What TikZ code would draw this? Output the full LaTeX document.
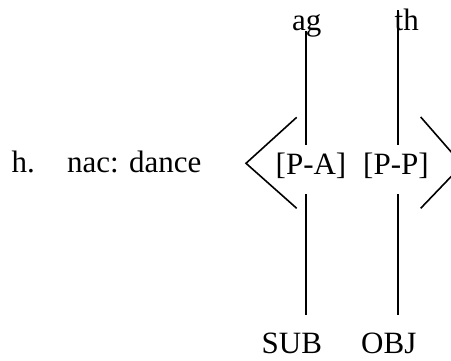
\documentclass[tikz,border=0pt]{standalone}
\usepackage{fontspec}
\setmainfont{Liberation Serif}
\begin{document}
\begin{tikzpicture}[x=1pt,y=-1pt,
  lbl/.style={anchor=base west,inner sep=0pt,font=\fontsize{31}{36}\selectfont},
  ln/.style={line width=1.6pt,black}]
\useasboundingbox (0,0) rectangle (451,360);
\node[lbl] (h) at (11.5,172) {h.};
\node[lbl] (nac) at (67,172) {nac: dance};
\node[lbl] (ag) at (292,30) {ag};
\node[lbl] (th) at (394.5,30) {th};
\node[lbl] (pa) at (275.5,174) {[P-A]};
\node[lbl] (pp) at (363,174) {[P-P]};
\node[lbl] (sub) at (261.5,353) {SUB};
\node[lbl] (obj) at (361,353) {OBJ};
% line end points
\coordinate (a1) at (305.7,31);
\coordinate (a2) at (305.7,144.5);
\coordinate (a3) at (305.7,194);
\coordinate (a4) at (305.7,315);
\coordinate (t1) at (397.7,10);
\coordinate (t2) at (397.7,144.5);
\coordinate (t3) at (397.7,194);
\coordinate (t4) at (397.7,315);
\coordinate (lu) at (296.7,117.3);
\coordinate (lp) at (246,163.3);
\coordinate (ld) at (296.7,208.3);
\coordinate (ru) at (420.7,117);
\coordinate (rp) at (462.4,164.8);
\coordinate (rd) at (420.7,208.3);
\begin{scope}
\clip (0,0) rectangle (451,360);
\draw[ln] (a1) -- (a2);
\draw[ln] (a3) -- (a4);
\draw[ln] (t1) -- (t2);
\draw[ln] (t3) -- (t4);
\draw[ln] (lu) -- (lp) -- (ld);
\draw[ln] (ru) -- (rp) -- (rd);
\end{scope}
\end{tikzpicture}
\end{document}
